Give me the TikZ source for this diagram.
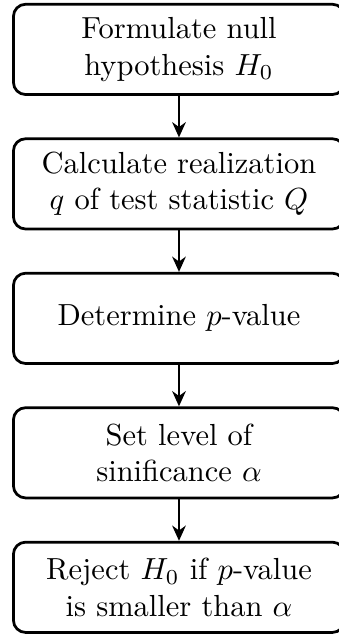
\documentclass[tikz,border=0pt]{standalone}
\usetikzlibrary{positioning,arrows.meta}

\tikzset{
    stepbox/.style={draw, line width=0.9pt, rounded corners=4pt, align=center,
        minimum width=108.6pt, minimum height=29.6pt, inner sep=2pt},
    flow/.style={-{Stealth[length=5pt,width=4.5pt]}, line width=0.65pt}
}

\begin{document}
\begin{tikzpicture}[node distance=13.6pt]
    % Fix the page size
    \useasboundingbox (-58.7pt, 16.2pt) rectangle (52.2pt, -192.7pt);
    % Steps of the test
    \node[stepbox] (null) at (0,0) {Formulate null\\hypothesis $H_0$};
    \node[stepbox, below=of null] (stat) {Calculate realization\\$q$ of test statistic $Q$};
    \node[stepbox, below=of stat] (pval) {Determine $p$-value};
    \node[stepbox, below=of pval] (level) {Set level of\\sinificance $\alpha$};
    \node[stepbox, below=of level] (reject) {Reject $H_0$ if $p$-value\\is smaller than $\alpha$};
    % Arrows between the steps
    \draw[flow] (null) -- (stat);
    \draw[flow] (stat) -- (pval);
    \draw[flow] (pval) -- (level);
    \draw[flow] (level) -- (reject);
\end{tikzpicture}
\end{document}
